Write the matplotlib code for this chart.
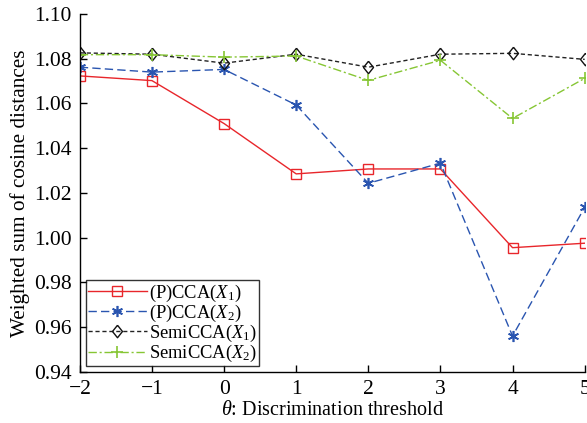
import matplotlib
matplotlib.use("Agg")
import matplotlib.pyplot as plt

theta = [-2, -1, 0, 1, 2, 3, 4, 5]
pcca_x1 = [1.0723, 1.0702, 1.0510, 1.0285, 1.0307, 1.0307, 0.9955, 0.9975]
pcca_x2 = [1.0762, 1.0740, 1.0752, 1.0593, 1.0243, 1.0333, 0.9560, 1.0135]
semi_x1 = [1.0826, 1.0820, 1.0780, 1.0820, 1.0762, 1.0820, 1.0824, 1.0797]
semi_x2 = [1.0818, 1.0818, 1.0807, 1.0812, 1.0703, 1.0793, 1.0533, 1.0712]
labels = [r"(P)CCA($X_1$)", r"(P)CCA($X_2$)", r"SemiCCA($X_1$)", r"SemiCCA($X_2$)"]
yticks = [0.94, 0.96, 0.98, 1.00, 1.02, 1.04, 1.06, 1.08, 1.10]
xticks = [-2, -1, 0, 1, 2, 3, 4, 5]

plt.rcParams['font.family'] = ['Liberation Serif', 'DejaVu Serif']
plt.rcParams['mathtext.fontset'] = 'custom'
plt.rcParams['mathtext.it'] = 'Liberation Serif:italic'
plt.rcParams['mathtext.rm'] = 'Liberation Serif'

fig = plt.figure(figsize=(5.87, 4.23), dpi=100)
ax = fig.add_axes([0.136, 0.121, 0.86, 0.846])

ast = (6, 2, 0)
diamond = [(0, 1), (0.8, 0), (0, -1), (-0.8, 0), (0, 1)]
ax.plot(theta, pcca_x1, color='#e8262b', ls='-', lw=1.0, marker='s', ms=7,
        mfc='none', mec='#e8262b', mew=1.0, label=labels[0])
ax.plot(theta, pcca_x2, color='#2a55b0', ls=(0, (6, 3)), lw=1.0, marker=ast, ms=8,
        mec='#2a55b0', mew=1.2, label=labels[1])
ax.plot(theta, semi_x1, color='#222222', ls=(0, (3, 2)), lw=1.0, marker=diamond, ms=9,
        mfc='none', mec='#111111', mew=1.0, label=labels[2])
ax.plot(theta, semi_x2, color='#86c634', ls=(0, (6, 2, 1.5, 2)), lw=1.0, marker='+', ms=9,
        mec='#86c634', mew=1.2, label=labels[3])

ax.set_xlim(-2, 5)
ax.set_ylim(0.94, 1.10)
ax.set_xticks(xticks)
ax.set_xticklabels([("\u2212" + str(-t)) if t < 0 else str(t) for t in xticks])
ax.set_yticks(yticks)
ax.set_yticklabels([f"{v:.2f}" for v in yticks])
ax.tick_params(direction='in', length=5, width=1, labelsize=15.5, pad=6)
for s in ['top', 'right']:
    ax.spines[s].set_visible(False)
for s in ['left', 'bottom']:
    ax.spines[s].set_linewidth(1.0)

ax.set_xlabel(r"$\theta$: Discrimination threshold", fontsize=14.5, labelpad=1)
ax.set_ylabel("Weighted sum of cosine distances", fontsize=15.3, labelpad=3)

leg = ax.legend(loc='lower left', bbox_to_anchor=(0.008, 0.01), fontsize=13.3,
                frameon=True, fancybox=False, edgecolor='black', handlelength=3.2,
                handletextpad=0.1, borderpad=0.12, labelspacing=-0.05, borderaxespad=0.1)
leg.get_frame().set_linewidth(1.0)

fig.savefig("out.png", dpi=100)
